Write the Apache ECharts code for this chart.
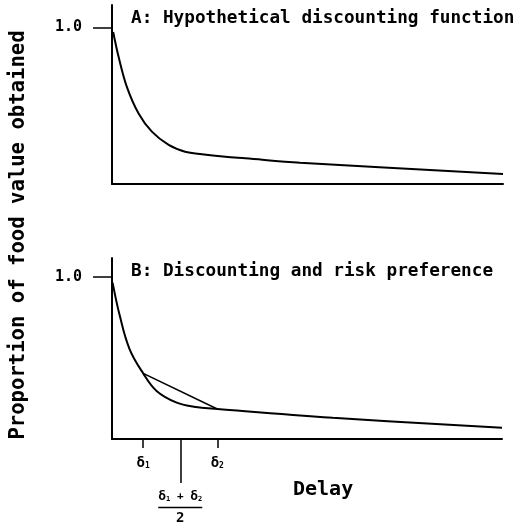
<!DOCTYPE html>
<html>
<head>
<meta charset="utf-8">
<script src="https://cdn.jsdelivr.net/npm/echarts@6/dist/echarts.min.js"></script>
<style>html,body{margin:0;padding:0;background:#fff;}#c{width:527px;height:529px;}</style>
</head>
<body>
<div id="c"></div>
<script>
// Panel A: hypothetical discounting function
const delayA = [0.3, 1.7, 3.8, 6.8, 10.2, 14.5, 18.7, 23.0, 29.0, 34.1, 48.1, 100];
const valueA = [0.97, 0.81, 0.62, 0.45, 0.334, 0.249, 0.206, 0.19, 0.174, 0.164, 0.136, 0.064];
// Panel B: same function with risk chord
const delayB = [0.15, 2.0, 4.5, 8.0, 11.5, 16.6, 21.0, 27.0, 56.6, 100];
const valueB = [0.965, 0.76, 0.555, 0.405, 0.295, 0.224, 0.199, 0.185, 0.131, 0.07];
const delta1 = 8.0;
const delta2 = 27.0;
const yTicks = [1.0];
const titles = ['A: Hypothetical discounting function', 'B: Discounting and risk preference'];
const yName = 'Proportion of food value obtained';
const xName = 'Delay';

const FONT = '"DejaVu Sans Mono", monospace';
const chordY1 = valueB[delayB.indexOf(delta1)];
const chordY2 = valueB[delayB.indexOf(delta2)];
const mid = (delta1 + delta2) / 2;

const chart = echarts.init(document.getElementById('c'), null, {renderer: 'canvas'});
const axisLine = {show: true, onZero: false, lineStyle: {color: '#000', width: 2}};
function yAxis(gi, max) {
  return {
    type: 'value', gridIndex: gi, min: 0, max: max,
    axisLine: axisLine, splitLine: {show: false},
    axisTick: {show: true, customValues: yTicks, length: 19, lineStyle: {color: '#000', width: 1.5}},
    axisLabel: {show: true, customValues: yTicks, margin: 30, formatter: v => v.toFixed(1),
      color: '#000', fontFamily: FONT, fontWeight: 'bold', fontSize: 15}
  };
}
const option = {
  backgroundColor: '#fff',
  animation: false,
  title: [
    {text: titles[0], left: 126, top: 4, textStyle: {fontFamily: FONT, fontWeight: 'bold', fontSize: 17.7, color: '#000'}},
    {text: titles[1], left: 126, top: 257, textStyle: {fontFamily: FONT, fontWeight: 'bold', fontSize: 17.7, color: '#000'}},
    {text: xName, left: 288, top: 475, textStyle: {fontFamily: FONT, fontWeight: 'bold', fontSize: 20, color: '#000'}}
  ],
  graphic: [{
    type: 'text', x: 19, y: 235, rotation: Math.PI / 2,
    style: {text: yName, fill: '#000', font: 'bold 20.6px ' + FONT, align: 'center', verticalAlign: 'middle'}
  }],
  grid: [
    {left: 112, right: 24, top: 5, bottom: 345},
    {left: 112, right: 25, top: 258, bottom: 90}
  ],
  xAxis: [
    {type: 'value', gridIndex: 0, min: 0, max: 100, axisLine: axisLine, axisTick: {show: false}, axisLabel: {show: false}, splitLine: {show: false}},
    {type: 'value', gridIndex: 1, min: 0, max: 100, axisLine: axisLine, splitLine: {show: false},
      axisTick: {show: true, customValues: [delta1, delta2], length: 9, lineStyle: {color: '#000', width: 1.5}},
      axisLabel: {show: true, customValues: [delta1, delta2], margin: 17,
        formatter: v => v === delta1 ? '{d|δ}{s|1}' : '{d|δ}{s|2}',
        rich: {d: {fontFamily: FONT, fontWeight: 'bold', fontSize: 14, color: '#000'},
               s: {fontFamily: FONT, fontWeight: 'bold', fontSize: 8, color: '#000', verticalAlign: 'bottom', padding: [6, 0, 0, 0]}}}},
    {type: 'value', gridIndex: 1, min: 0, max: 100, position: 'bottom', axisLine: {show: false}, splitLine: {show: false},
      axisTick: {show: true, customValues: [mid], length: 44, lineStyle: {color: '#000', width: 1.5}},
      axisLabel: {show: true, customValues: [mid], margin: 50,
        formatter: () => '{d|δ}{s|1}{p| + }{d|δ}{s|2}\n{bar| }\n{den|2}',
        rich: {d: {fontFamily: FONT, fontWeight: 'bold', fontSize: 13, color: '#000', lineHeight: 15},
               s: {fontFamily: FONT, fontWeight: 'bold', fontSize: 7, color: '#000', lineHeight: 15, padding: [5, 0, 0, 0]},
               p: {fontFamily: FONT, fontWeight: 'bold', fontSize: 11, color: '#000', lineHeight: 15},
               bar: {width: 44, height: 1.5, lineHeight: 7, fontSize: 1, backgroundColor: '#000'},
               den: {fontFamily: FONT, fontWeight: 'bold', fontSize: 14, color: '#000', lineHeight: 14}}}}
  ],
  yAxis: [yAxis(0, 1.142), yAxis(1, 1.117)],
  series: [
    {type: 'line', xAxisIndex: 0, yAxisIndex: 0, smooth: 0.35, symbol: 'none',
      data: delayA.map((d, i) => [d, valueA[i]]), lineStyle: {color: '#000', width: 2}},
    {type: 'line', xAxisIndex: 1, yAxisIndex: 1, smooth: 0.4, symbol: 'none',
      data: delayB.map((d, i) => [d, valueB[i]]), lineStyle: {color: '#000', width: 2}},
    {type: 'line', xAxisIndex: 1, yAxisIndex: 1, symbol: 'none',
      data: [[delta1, chordY1], [delta2, chordY2]], lineStyle: {color: '#000', width: 1.6}}
  ]
};
chart.setOption(option);
</script>
</body>
</html>
